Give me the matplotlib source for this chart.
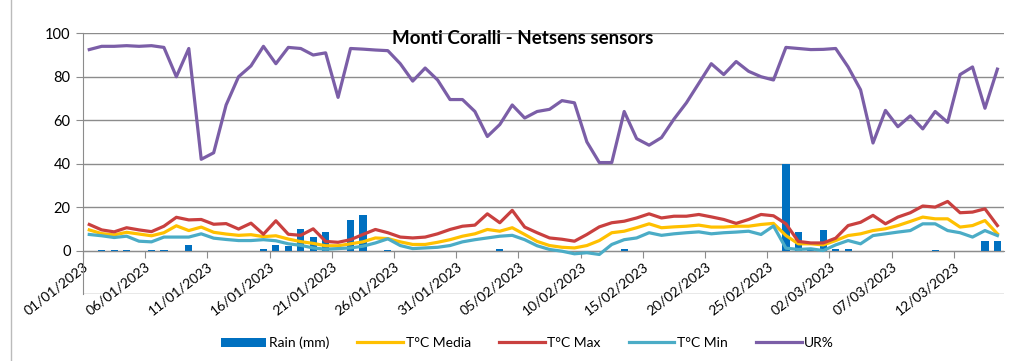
import numpy as np
import pandas as pd
import matplotlib
matplotlib.use('Agg')
import matplotlib.pyplot as plt
from matplotlib.lines import Line2D

plt.rcParams['font.family'] = ['Lato', 'DejaVu Sans']

# daily readings, 01/01/2023 - 15/03/2023
days = pd.date_range('2023-01-01', '2023-03-15', freq='D')

rain = [0, 0.4, 0.4, 0.4, 0, 0.4, 0.4, 0, 2.5, 0,
        0, 0, 0, 0, 0.6, 2.5, 2, 10, 6.3, 8.5,
        0, 14, 16.5, 0, 0.4, 0, 0, 0, 0, 0,
        0, 0, 0, 0.6, 0, 0, 0, 0, 0, 0,
        0, 0, 0, 0.5, 0, 0, 0, 0, 0, 0,
        0, 0, 0, 0, 0, 0, 40, 8.5, 1, 9.5,
        0.8, 0.5, 0, 0, 0, 0, 0, 0, 0.4, 0,
        0, 0, 4.2, 4.2]

t_media = [9.5, 7.8, 7.2, 8.4, 7.6, 6.8, 8.2, 11.4, 9.2, 10.8,
           8.4, 7.6, 7, 7.3, 6.4, 6.8, 5.3, 4.1, 3.3, 2.2,
           2.2, 3.1, 4, 5.8, 5.5, 4, 2.8, 2.8, 3.8, 5,
           6.6, 7.7, 9.7, 8.9, 10.5, 7.4, 4.2, 2.3, 1.5, 1.2,
           2.3, 4.6, 8.2, 8.9, 10.5, 12.3, 10.5, 10.9, 11.2, 11.7,
           10.8, 10.8, 11.2, 11.2, 12, 12.5, 6.9, 3.1, 3.1, 2.6,
           4.6, 6.9, 7.7, 9.2, 10, 11.5, 13.4, 15.4, 14.6, 14.6,
           10.8, 11.5, 13.8, 7.7]

t_max = [12, 9.5, 8.6, 10.5, 9.5, 8.7, 11.2, 15.3, 14.1, 14.3,
         12.1, 12.4, 9.9, 12.6, 7.5, 13.7, 7.5, 7, 10, 4.2,
         3.8, 5, 7.4, 9.7, 8.2, 6.2, 5.8, 6.2, 7.7, 9.7,
         11.2, 11.7, 16.9, 12.8, 18.5, 10.8, 8.2, 5.8, 5.2, 4.3,
         7.4, 10.9, 12.8, 13.5, 15, 16.9, 15, 15.8, 15.8, 16.6,
         15.5, 14.3, 12.5, 14.3, 16.6, 16, 12.3, 4.2, 3.5, 3.5,
         5.7, 11.5, 13, 16.2, 12.3, 15.4, 17.4, 20.5, 20, 22.6,
         17.4, 17.7, 19.2, 11.5]

t_min = [7.4, 6.8, 6, 6.6, 4.3, 4, 6.2, 6.2, 6.2, 7.7,
         5.7, 5.1, 4.6, 4.6, 5, 4.5, 3.1, 2.4, 1.2, 0.6,
         0.9, 1.2, 2, 3.5, 5.4, 2.3, 0.9, 1.2, 1.5, 2.3,
         4, 5, 5.8, 6.6, 7, 5, 2.2, 0.5, -0.3, -1.5,
         -1, -1.8, 2.8, 5, 5.8, 8.2, 7, 7.7, 8.2, 8.6,
         7.7, 8.2, 8.5, 8.9, 7.4, 11.3, 1.1, 0.5, 0.8, 0,
         2.6, 4.6, 3.1, 6.9, 7.7, 8.5, 9.2, 12.3, 12.3, 9.2,
         8.2, 6.2, 9.2, 6.9]

ur = [92.5, 94, 94, 94.3, 94, 94.3, 93.5, 80, 93, 42,
      45, 67, 80, 85, 94, 86, 93.5, 93, 90, 91,
      70.5, 93, 92.7, 92.3, 92, 86, 78, 84, 78.5, 69.5,
      69.5, 64, 52.5, 58, 67, 61, 64, 65, 69, 68,
      50, 40.5, 40.5, 64, 51.5, 48.5, 52, 60.5, 68, 77,
      86, 81, 87, 82.5, 80, 78.5, 93.5, 93, 92.5, 92.6,
      93, 84.5, 74, 49.5, 64.5, 57, 62, 56, 64, 59,
      81, 84.5, 65.5, 83.5]

x = np.arange(len(days))
grid_col = '#8c8c8c'

fig = plt.figure(figsize=(10.24, 3.61), dpi=100)
ax = fig.add_axes([0.0811, 0.1856, 0.899, 0.7222])

bars = ax.bar(x, rain, width=0.58, color='#0070C0', label='Rain (mm)', zorder=2)
l_med, = ax.plot(x, t_media, color='#FFC000', lw=2.3, label='T°C Media', zorder=3)
l_max, = ax.plot(x, t_max, color='#C9403F', lw=2.3, label='T°C Max', zorder=3)
l_min, = ax.plot(x, t_min, color='#4BACC6', lw=2.3, label='T°C Min', zorder=3)
l_ur, = ax.plot(x, ur, color='#7B5EA7', lw=2.3, label='UR%', zorder=3)

ax.set_xlim(-0.5, len(days) - 0.5)
ax.set_ylim(-20, 100)
ax.set_yticks(np.arange(0, 101, 20))
for v in range(0, 101, 20):
    ax.axhline(v, color=grid_col, lw=1, zorder=1)
ax.axhline(-20, color=grid_col, lw=1, zorder=1)

ax.spines['bottom'].set_position(('data', 0))
ax.spines['bottom'].set_color(grid_col)
ax.spines['left'].set_color(grid_col)
ax.spines['top'].set_visible(False)
ax.spines['right'].set_visible(False)

ticks = x[::5] - 0.5
ax.set_xticks(ticks)
ax.set_xticklabels([d.strftime('%d/%m/%Y') for d in days[::5]],
                   rotation=38, ha='right', rotation_mode='anchor', fontsize=10)
ax.tick_params(axis='x', length=5, color=grid_col, pad=2)
ax.tick_params(axis='y', length=5, color=grid_col, labelsize=10.5, pad=4)

fig.text(0.51, 0.893, 'Monti Coralli - Netsens sensors', ha='center', va='center',
         fontsize=13.5, fontweight='bold')

fig.legend(handles=[bars, l_med, l_max, l_min, l_ur],
           loc='center', bbox_to_anchor=(0.515, 0.05), ncol=5, frameon=False,
           fontsize=10, handlelength=3.3, columnspacing=2.0, handletextpad=0.2)

fig.add_artist(Line2D([0.011, 0.011], [0, 1], color='#bbbbbb', lw=1))

fig.savefig('out.png', dpi=100)
